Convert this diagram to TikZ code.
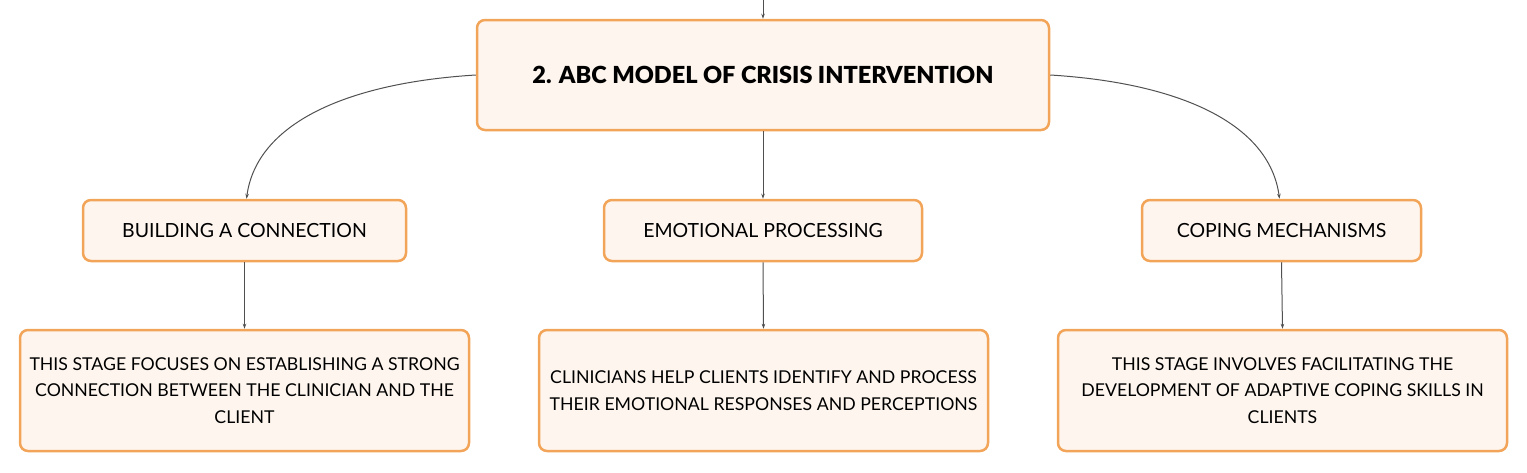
\documentclass[tikz,border=0pt]{standalone}
\usepackage{fontspec}
\setmainfont{Lato}
\newfontfamily\titlefont{Lato Black}
\usetikzlibrary{arrows.meta}
\definecolor{boxline}{HTML}{F2A558}
\definecolor{boxfill}{HTML}{FEF6EE}
\definecolor{conn}{HTML}{505050}
\tikzset{
  box/.style={draw=boxline, line width=2.5pt, fill=boxfill, rounded corners=8pt, align=center, inner sep=0pt, text=black},
  titlebox/.style={box, minimum width=572pt, minimum height=110pt, font=\fontsize{23.5}{28}\titlefont},
  stagebox/.style={box, minimum height=61pt, font=\fontsize{19.5}{23}\selectfont},
  descbox/.style={box, minimum width=449pt, minimum height=121pt, font=\fontsize{17.7}{26.5}\selectfont},
  conn/.style={draw=conn, line width=1pt, -{Stealth[length=5pt,width=3.5pt]}}
}
\begin{document}
\begin{tikzpicture}[x=1pt,y=-1pt]
\useasboundingbox (0,0) rectangle (1527,472);
\coordinate (top) at (763,0);
\node[titlebox] (main) at (763,75) {2. ABC MODEL OF CRISIS INTERVENTION};
\node[stagebox, minimum width=323pt] (b1) at (244.5,230.5) {BUILDING A CONNECTION};
\node[stagebox, minimum width=318pt] (b2) at (763,230.5) {EMOTIONAL PROCESSING};
\node[stagebox, minimum width=279pt] (b3) at (1281.5,230.5) {COPING MECHANISMS};
\node[descbox] (d1) at (244.5,390.5) {THIS STAGE FOCUSES ON ESTABLISHING A STRONG\\CONNECTION BETWEEN THE CLINICIAN AND THE\\CLIENT};
\node[descbox] (d2) at (763.5,390.5) {CLINICIANS HELP CLIENTS IDENTIFY AND PROCESS\\THEIR EMOTIONAL RESPONSES AND PERCEPTIONS};
\node[descbox] (d3) at (1282.5,390.5) {THIS STAGE INVOLVES FACILITATING THE\\DEVELOPMENT OF ADAPTIVE COPING SKILLS IN\\CLIENTS};
\draw[conn] (top) -- (main.north);
\draw[conn] (main.west) .. controls +(-130,8) and +(10,-75) .. ([xshift=2pt]b1.north);
\draw[conn] (main.east) .. controls +(130,8) and +(-10,-75) .. ([xshift=-2pt]b3.north);
\draw[conn] (main.south) -- (b2.north);
\draw[conn] (b1.south) -- (d1.north);
\draw[conn] (b2.south) -- (d2.north);
\draw[conn] (b3.south) -- (d3.north);
\end{tikzpicture}
\end{document}
